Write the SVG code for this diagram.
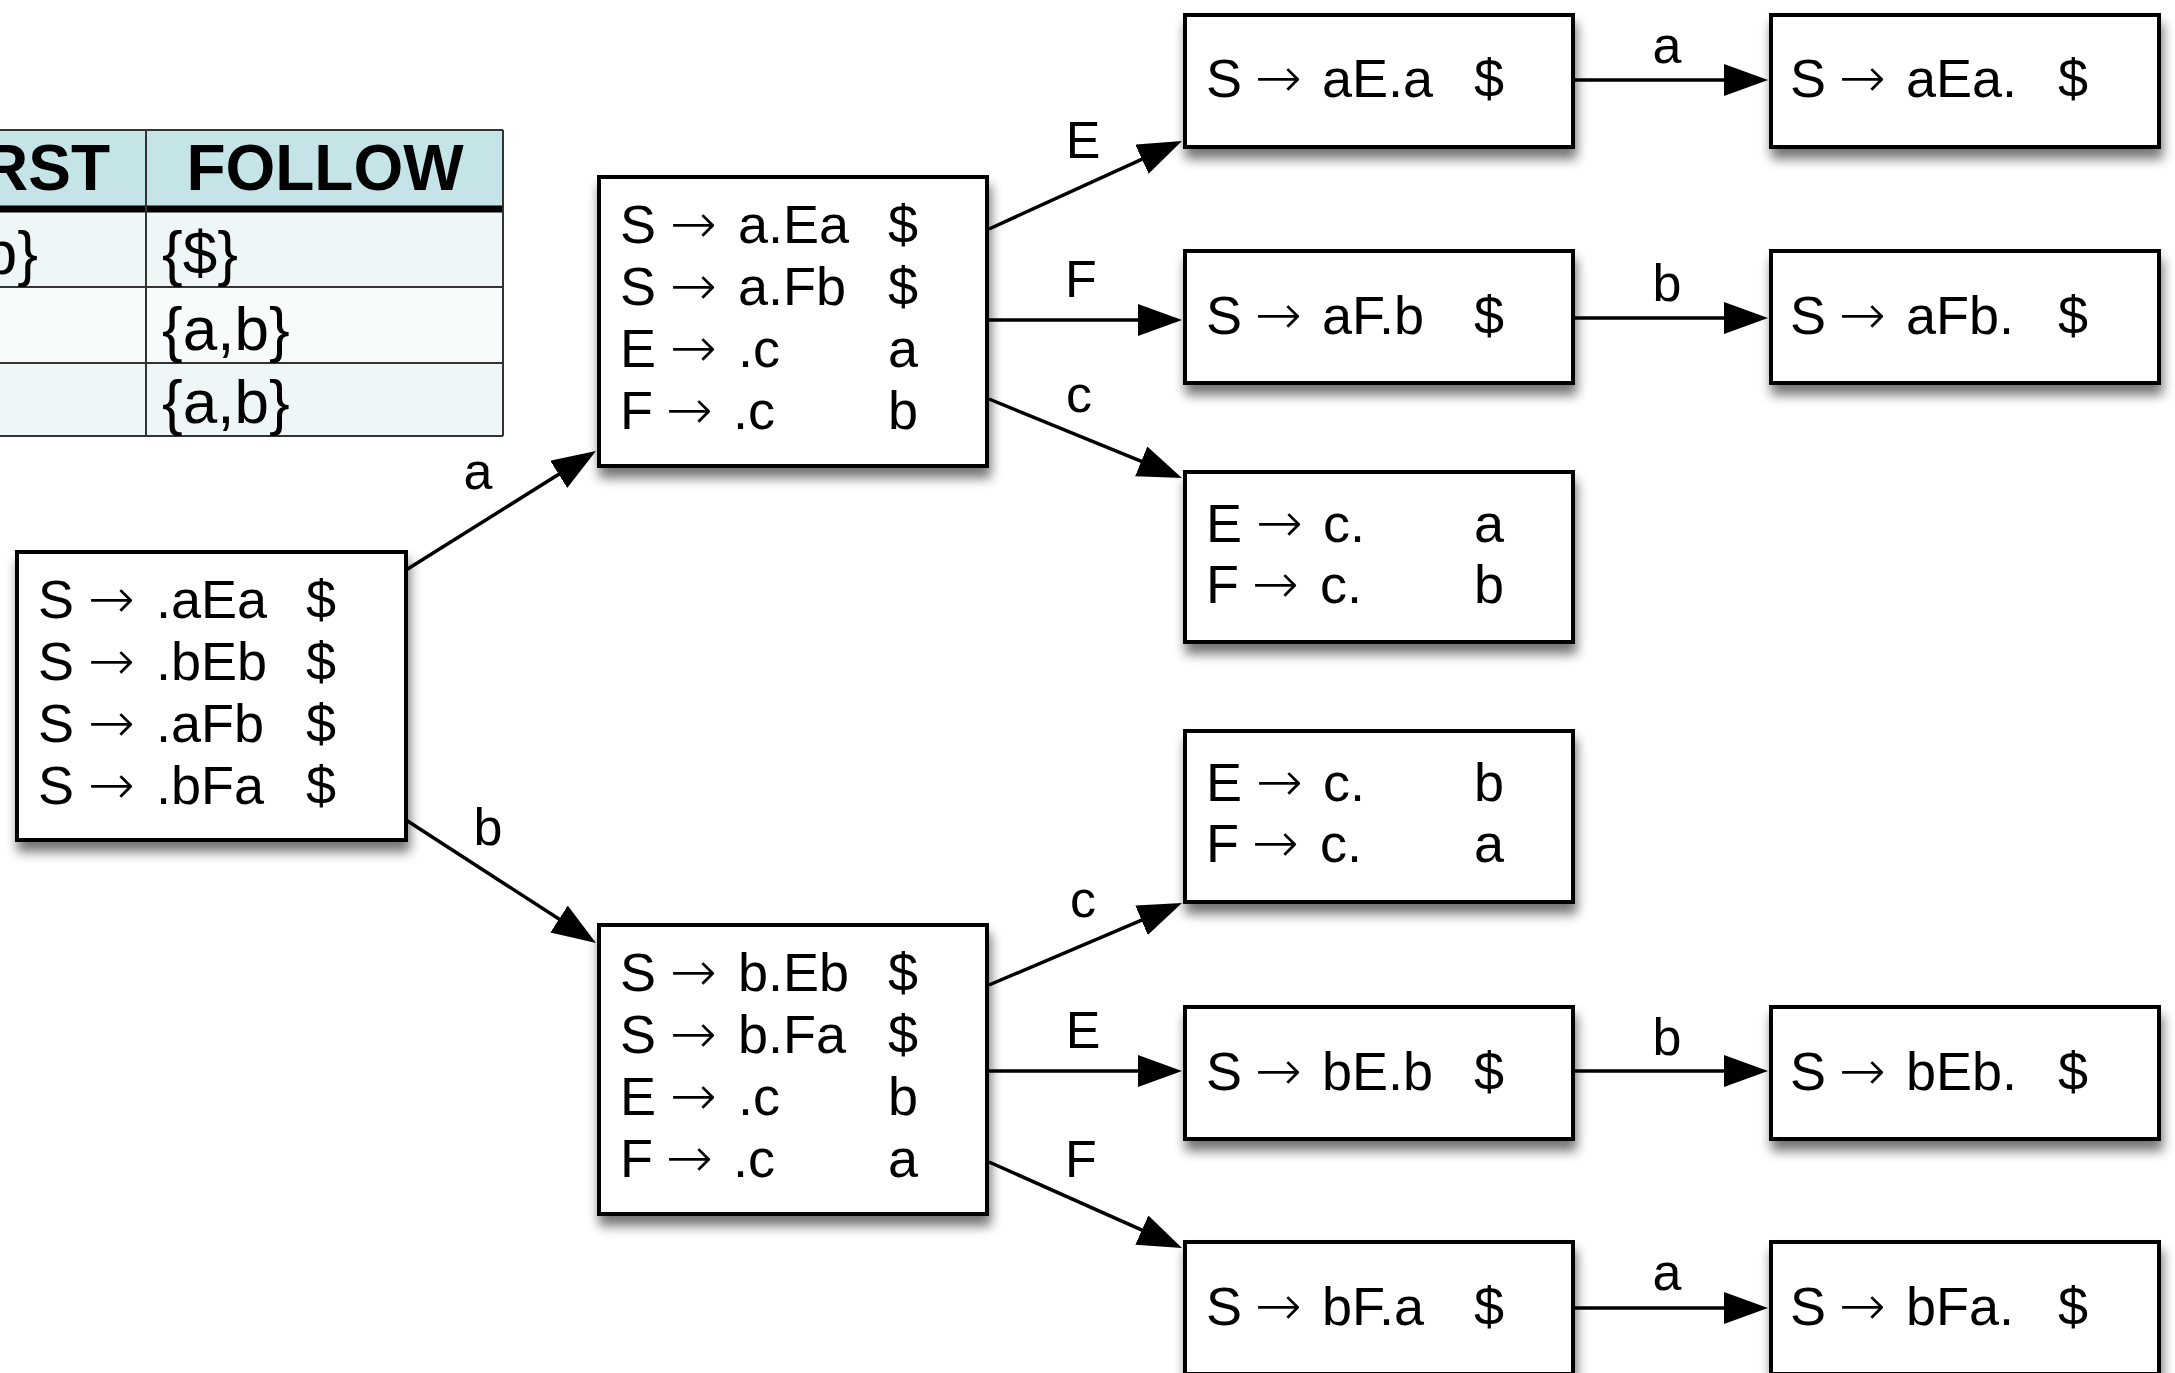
<svg xmlns="http://www.w3.org/2000/svg" width="2175" height="1373" viewBox="0 0 2175 1373">
<style>
text{font-family:"Liberation Sans",Arial,Helvetica,sans-serif;fill:#000}
.t{font-size:54px}
.ar{font-family:"DejaVu Sans",sans-serif;font-size:56px;font-weight:200}
.lbl{font-size:52px;text-anchor:middle}
.box{fill:#fff;stroke:#000;stroke-width:4;filter:url(#sh)}
.edge{stroke:#000;stroke-width:3.5;fill:none;marker-end:url(#ah)}
.th{font-size:64px;font-weight:bold}
.td{font-size:62px}
</style>
<defs>
<filter id="sh" x="-10%" y="-15%" width="125%" height="150%">
<feGaussianBlur in="SourceAlpha" stdDeviation="6"/>
<feOffset dx="2" dy="10" result="o"/>
<feComponentTransfer><feFuncA type="linear" slope="0.55"/></feComponentTransfer>
<feMerge><feMergeNode/><feMergeNode in="SourceGraphic"/></feMerge>
</filter>
<marker id="ah" markerUnits="userSpaceOnUse" markerWidth="46" markerHeight="34" refX="34" refY="16" orient="auto">
<path d="M0,0 L44,16 L0,32 Z" fill="#000"/>
</marker>
</defs>
<rect width="2175" height="1373" fill="#fff"/>

<g id="table">
<rect x="-10" y="130" width="513" height="77" fill="#c4e4e8"/>
<rect x="-10" y="212" width="513" height="75" fill="#eef6f8"/>
<rect x="-10" y="287" width="513" height="76" fill="#f8fbfc"/>
<rect x="-10" y="363" width="513" height="73" fill="#eef6f8"/>
<line x1="-10" y1="130" x2="503" y2="130" stroke="#333" stroke-width="2"/>
<line x1="-10" y1="209" x2="503" y2="209" stroke="#000" stroke-width="7"/>
<line x1="-10" y1="287" x2="503" y2="287" stroke="#333" stroke-width="2"/>
<line x1="-10" y1="363" x2="503" y2="363" stroke="#333" stroke-width="2"/>
<line x1="-10" y1="436" x2="503" y2="436" stroke="#333" stroke-width="2"/>
<line x1="146" y1="130" x2="146" y2="436" stroke="#333" stroke-width="2"/>
<line x1="503" y1="130" x2="503" y2="436" stroke="#333" stroke-width="2"/>
<text class="th" x="110" y="190" text-anchor="end">RST</text>
<text class="th" x="325" y="190" text-anchor="middle">FOLLOW</text>
<text class="td" x="38" y="274" text-anchor="end">b}</text>
<text class="td" x="162" y="274">{$}</text>
<text class="td" x="162" y="350">{a,b}</text>
<text class="td" x="162" y="423">{a,b}</text>
</g>

<g id="connectors">
<line class="edge" x1="406" y1="570" x2="587.5" y2="456.3"/>
<line class="edge" x1="406" y1="820" x2="587.6" y2="937.5"/>
<line class="edge" x1="989" y1="229" x2="1172.9" y2="145.1"/>
<line class="edge" x1="989" y1="320" x2="1172" y2="320"/>
<line class="edge" x1="989" y1="399" x2="1172.7" y2="474.2"/>
<line class="edge" x1="989" y1="985" x2="1172.8" y2="906.9"/>
<line class="edge" x1="989" y1="1071" x2="1172" y2="1071"/>
<line class="edge" x1="989" y1="1162" x2="1172.9" y2="1243.9"/>
<line class="edge" x1="1573" y1="80" x2="1758" y2="80"/>
<line class="edge" x1="1573" y1="318" x2="1758" y2="318"/>
<line class="edge" x1="1573" y1="1071" x2="1758" y2="1071"/>
<line class="edge" x1="1573" y1="1308" x2="1758" y2="1308"/>
<text class="lbl" x="478" y="489">a</text>
<text class="lbl" x="488" y="845">b</text>
<text class="lbl" x="1083" y="158">E</text>
<text class="lbl" x="1081" y="297">F</text>
<text class="lbl" x="1079" y="412">c</text>
<text class="lbl" x="1083" y="917">c</text>
<text class="lbl" x="1083" y="1048">E</text>
<text class="lbl" x="1081" y="1177">F</text>
<text class="lbl" x="1667" y="63">a</text>
<text class="lbl" x="1667" y="301">b</text>
<text class="lbl" x="1667" y="1055">b</text>
<text class="lbl" x="1667" y="1290">a</text>
</g>

<g id="n0">
<rect class="box" x="17" y="552" width="389" height="288"/>
<text class="t" x="38" y="618">S<tspan class="ar" x="88">→</tspan><tspan x="156">.aEa</tspan><tspan x="306">$</tspan></text>
<text class="t" x="38" y="680">S<tspan class="ar" x="88">→</tspan><tspan x="156">.bEb</tspan><tspan x="306">$</tspan></text>
<text class="t" x="38" y="742">S<tspan class="ar" x="88">→</tspan><tspan x="156">.aFb</tspan><tspan x="306">$</tspan></text>
<text class="t" x="38" y="804">S<tspan class="ar" x="88">→</tspan><tspan x="156">.bFa</tspan><tspan x="306">$</tspan></text>
</g>

<g id="n1">
<rect class="box" x="599" y="177" width="388" height="289"/>
<text class="t" x="620" y="243">S<tspan class="ar" x="670">→</tspan><tspan x="738">a.Ea</tspan><tspan x="888">$</tspan></text>
<text class="t" x="620" y="305">S<tspan class="ar" x="670">→</tspan><tspan x="738">a.Fb</tspan><tspan x="888">$</tspan></text>
<text class="t" x="620" y="367">E<tspan class="ar" x="670">→</tspan><tspan x="738">.c</tspan><tspan x="888">a</tspan></text>
<text class="t" x="620" y="429">F<tspan class="ar" x="666">→</tspan><tspan x="733">.c</tspan><tspan x="888">b</tspan></text>
</g>

<g id="n2">
<rect class="box" x="599" y="925" width="388" height="289"/>
<text class="t" x="620" y="991">S<tspan class="ar" x="670">→</tspan><tspan x="738">b.Eb</tspan><tspan x="888">$</tspan></text>
<text class="t" x="620" y="1053">S<tspan class="ar" x="670">→</tspan><tspan x="738">b.Fa</tspan><tspan x="888">$</tspan></text>
<text class="t" x="620" y="1115">E<tspan class="ar" x="670">→</tspan><tspan x="738">.c</tspan><tspan x="888">b</tspan></text>
<text class="t" x="620" y="1177">F<tspan class="ar" x="666">→</tspan><tspan x="733">.c</tspan><tspan x="888">a</tspan></text>
</g>

<g id="n3">
<rect class="box" x="1185" y="15" width="388" height="132"/>
<text class="t" x="1206" y="97">S<tspan class="ar" x="1255">→</tspan><tspan x="1322">aE.a</tspan><tspan x="1474">$</tspan></text>
</g>
<g id="n4">
<rect class="box" x="1771" y="15" width="388" height="132"/>
<text class="t" x="1790" y="97">S<tspan class="ar" x="1839">→</tspan><tspan x="1906">aEa.</tspan><tspan x="2058">$</tspan></text>
</g>
<g id="n5">
<rect class="box" x="1185" y="251" width="388" height="132"/>
<text class="t" x="1206" y="334">S<tspan class="ar" x="1255">→</tspan><tspan x="1322">aF.b</tspan><tspan x="1474">$</tspan></text>
</g>
<g id="n6">
<rect class="box" x="1771" y="251" width="388" height="132"/>
<text class="t" x="1790" y="334">S<tspan class="ar" x="1839">→</tspan><tspan x="1906">aFb.</tspan><tspan x="2058">$</tspan></text>
</g>
<g id="n7">
<rect class="box" x="1185" y="472" width="388" height="170"/>
<text class="t" x="1206" y="542">E<tspan class="ar" x="1256">→</tspan><tspan x="1323">c.</tspan><tspan x="1474">a</tspan></text>
<text class="t" x="1206" y="603">F<tspan class="ar" x="1252">→</tspan><tspan x="1320">c.</tspan><tspan x="1474">b</tspan></text>
</g>
<g id="n8">
<rect class="box" x="1185" y="731" width="388" height="171"/>
<text class="t" x="1206" y="801">E<tspan class="ar" x="1256">→</tspan><tspan x="1323">c.</tspan><tspan x="1474">b</tspan></text>
<text class="t" x="1206" y="862">F<tspan class="ar" x="1252">→</tspan><tspan x="1320">c.</tspan><tspan x="1474">a</tspan></text>
</g>
<g id="n9">
<rect class="box" x="1185" y="1007" width="388" height="132"/>
<text class="t" x="1206" y="1090">S<tspan class="ar" x="1255">→</tspan><tspan x="1322">bE.b</tspan><tspan x="1474">$</tspan></text>
</g>
<g id="n10">
<rect class="box" x="1771" y="1007" width="388" height="132"/>
<text class="t" x="1790" y="1090">S<tspan class="ar" x="1839">→</tspan><tspan x="1906">bEb.</tspan><tspan x="2058">$</tspan></text>
</g>
<g id="n11">
<rect class="box" x="1185" y="1242" width="388" height="132"/>
<text class="t" x="1206" y="1325">S<tspan class="ar" x="1255">→</tspan><tspan x="1322">bF.a</tspan><tspan x="1474">$</tspan></text>
</g>
<g id="n12">
<rect class="box" x="1771" y="1242" width="388" height="132"/>
<text class="t" x="1790" y="1325">S<tspan class="ar" x="1839">→</tspan><tspan x="1906">bFa.</tspan><tspan x="2058">$</tspan></text>
</g>
</svg>
